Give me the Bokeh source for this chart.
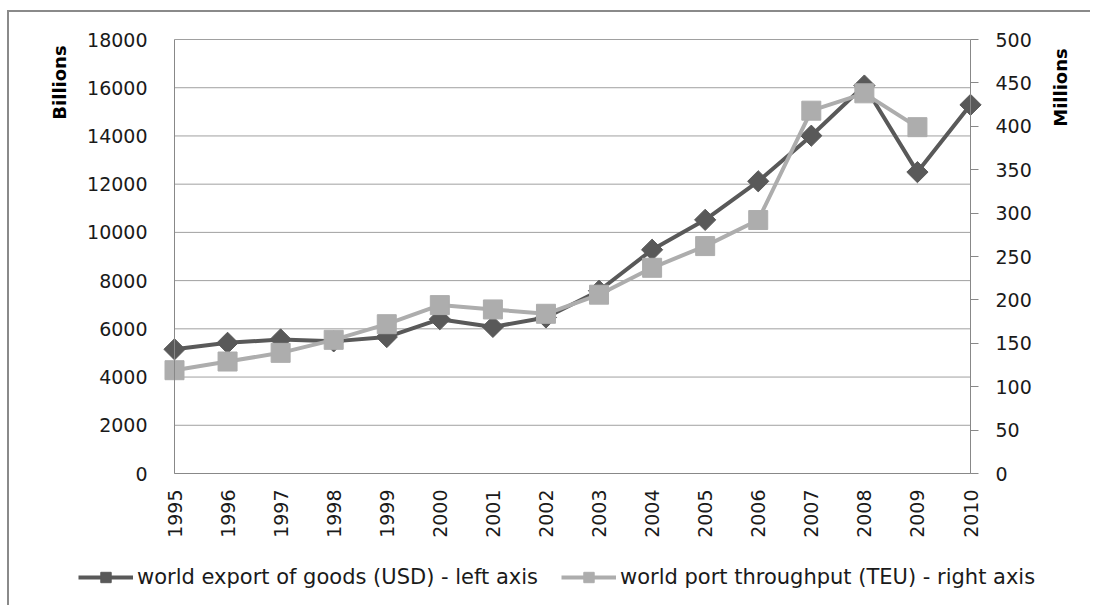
import numpy as np
from bokeh.plotting import figure
from bokeh.models import (Range1d, LinearAxis, FixedTicker, Legend, LegendItem,
                          Label, InlineStyleSheet)
from bokeh.embed import file_html
from bokeh.resources import INLINE

# ---- data ----
years = [1995, 1996, 1997, 1998, 1999, 2000, 2001, 2002, 2003, 2004, 2005,
         2006, 2007, 2008, 2009, 2010]
export_goods = [5150, 5420, 5560, 5480, 5660, 6400, 6080, 6470, 7580, 9280,
                10520, 12120, 14010, 16090, 12500, 15290]
port_years = [1995, 1996, 1997, 1998, 1999, 2000, 2001, 2002, 2003, 2004,
              2005, 2006, 2007, 2008, 2009]
port_teu = [119, 129, 139, 154, 172, 194, 189, 184, 206, 237, 262, 292, 418,
            438, 399]
left_ticks = list(range(0, 18001, 2000))
right_ticks = list(range(0, 501, 50))
label_export = "world export of goods (USD) - left axis"
label_port = "world port throughput (TEU) - right axis"
title_left = "Billions"
title_right = "Millions"

# ---- layout (pixels) ----
W, H = 1090, 605                 # canvas
PL, PR, PT, PB = 174, 970, 39, 473   # plot area edges
X0, X1 = years[0], years[-1]
Y_MAX_L, Y_MAX_R = left_ticks[-1], right_ticks[-1]
xs = (X1 - X0) / (PR - PL)       # years per pixel
ysl = Y_MAX_L / (PB - PT)        # left units per pixel
ysr = Y_MAX_R / (PB - PT)        # right units per pixel

DARK = "#595959"
LIGHT = "#ADADAD"
AXIS = "#888888"
GRID = "#a0a0a0"
TXT = "#1a1a1a"
FONT = "DejaVu Sans"

p = figure(frame_width=W, frame_height=H, output_backend="svg",
           toolbar_location=None,
           x_range=Range1d(X0 - PL * xs, X0 + (W - PL) * xs),
           y_range=Range1d(-(H - PB) * ysl, Y_MAX_L + PT * ysl),
           min_border=0)
p.outline_line_color = None
p.background_fill_alpha = 0
p.border_fill_alpha = 0
p.xgrid.visible = False
p.ygrid.visible = False
# outer chart border (only its left and top edges are visible in the reference)
p.stylesheets = [InlineStyleSheet(css=(
    ":host { background: "
    "linear-gradient(#8a8a8a,#8a8a8a) 7px 10px / 2px 3000px no-repeat, "
    "linear-gradient(#8a8a8a,#8a8a8a) 7px 10px / 3000px 2px no-repeat, white; }"))]

# left axis
la = p.yaxis[0]
la.ticker = FixedTicker(ticks=left_ticks)
la.fixed_location = X0
la.bounds = (0, Y_MAX_L)
la.axis_line_color = AXIS
la.major_tick_out = 0
la.major_tick_in = 0
la.minor_tick_out = 0
la.minor_tick_in = 0
la.major_label_standoff = 27
la.major_label_text_font = FONT
la.major_label_text_font_size = "19px"
la.major_label_text_color = TXT

# right axis
p.extra_y_ranges = {"teu": Range1d(-(H - PB) * ysr, Y_MAX_R + PT * ysr)}
ra = LinearAxis(y_range_name="teu", ticker=FixedTicker(ticks=right_ticks),
                fixed_location=X1, bounds=(0, Y_MAX_R))
ra.axis_line_color = AXIS
ra.major_tick_line_color = AXIS
ra.major_tick_out = 8
ra.major_tick_in = 0
ra.minor_tick_out = 0
ra.minor_tick_in = 0
ra.major_label_standoff = 17
ra.major_label_text_font = FONT
ra.major_label_text_font_size = "19px"
ra.major_label_text_color = TXT
p.add_layout(ra, "right")

# x axis
xa = p.xaxis[0]
xa.ticker = FixedTicker(ticks=years)
xa.fixed_location = 0
xa.bounds = (X0, X1)
xa.axis_line_color = AXIS
xa.major_tick_out = 0
xa.major_tick_in = 0
xa.minor_tick_out = 0
xa.minor_tick_in = 0
xa.major_label_orientation = np.pi / 2
xa.major_label_standoff = 16
xa.major_label_text_font = FONT
xa.major_label_text_font_size = "19px"
xa.major_label_text_color = TXT

# horizontal gridlines across the plot area only
p.segment(x0=[X0] * len(left_ticks), x1=[X1] * len(left_ticks),
          y0=left_ticks, y1=left_ticks, line_color=GRID, line_width=1)

# series
r1 = p.line(years, export_goods, line_color=DARK, line_width=4)
s1 = p.scatter(years, export_goods, marker="square", angle=np.pi / 4, size=15,
               fill_color=DARK, line_color=DARK)
r2 = p.line(port_years, port_teu, y_range_name="teu", line_color=LIGHT,
            line_width=4)
s2 = p.scatter(port_years, port_teu, y_range_name="teu", marker="square",
               size=19, fill_color=LIGHT, line_color=LIGHT)

# axis titles at the top of each axis
p.add_layout(Label(x=X0 + (58.5 - PL) * xs, y=(PB - 82) * ysl, text=title_left,
                   angle=np.pi / 2, text_align="center", text_baseline="middle",
                   text_font=FONT, text_font_size="18px",
                   text_font_style="bold", text_color="black"))
p.add_layout(Label(x=X0 + (1060 - PL) * xs, y=(PB - 87) * ysl, text=title_right,
                   angle=np.pi / 2, text_align="center", text_baseline="middle",
                   text_font=FONT, text_font_size="18px",
                   text_font_style="bold", text_color="black"))

# legend entries below the plot
common = dict(orientation="horizontal", glyph_width=55, glyph_height=26,
              label_height=26, label_standoff=4, padding=0, margin=0,
              spacing=0, border_line_alpha=0, background_fill_alpha=0,
              label_text_font=FONT, label_text_font_size="21px",
              label_text_color=TXT)
LEG_TOP = 564
lg1 = Legend(items=[LegendItem(label=label_export, renderers=[r1, s1])],
             location=(78, H - LEG_TOP - 26), **common)
lg2 = Legend(items=[LegendItem(label=label_port, renderers=[r2, s2])],
             location=(561, H - LEG_TOP - 26), **common)
p.add_layout(lg1)
p.add_layout(lg2)

open("out.html", "w").write(file_html(p, INLINE))
